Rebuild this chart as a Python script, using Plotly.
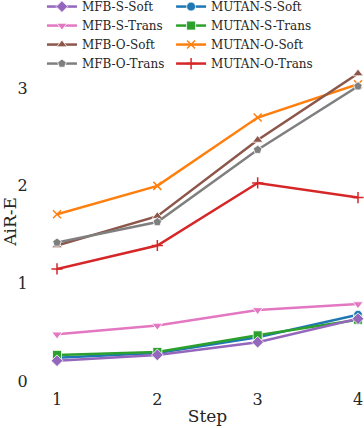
import plotly.graph_objects as go

steps = [1, 2, 3, 4]

mfb_s_soft = [0.21, 0.27, 0.40, 0.64]
mfb_s_trans = [0.48, 0.57, 0.73, 0.79]
mfb_o_soft = [1.39, 1.69, 2.47, 3.15]
mfb_o_trans = [1.42, 1.63, 2.37, 3.02]
mutan_s_soft = [0.24, 0.29, 0.45, 0.68]
mutan_s_trans = [0.27, 0.30, 0.47, 0.63]
mutan_o_soft = [1.71, 2.00, 2.70, 3.04]
mutan_o_trans = [1.15, 1.39, 2.03, 1.88]

y_ticks = [0, 1, 2, 3]

series = [
    # name, values, color, symbol, legend
    ("MUTAN-S-Soft", mutan_s_soft, "#1f77b4", "circle", "legend2"),
    ("MUTAN-S-Trans", mutan_s_trans, "#2ca02c", "square", "legend2"),
    ("MUTAN-O-Soft", mutan_o_soft, "#ff7f0e", "x-thin", "legend2"),
    ("MUTAN-O-Trans", mutan_o_trans, "#d62728", "cross-thin", "legend2"),
    ("MFB-S-Soft", mfb_s_soft, "#9467bd", "diamond", "legend"),
    ("MFB-S-Trans", mfb_s_trans, "#e377c2", "triangle-down", "legend"),
    ("MFB-O-Soft", mfb_o_soft, "#8c564b", "triangle-up", "legend"),
    ("MFB-O-Trans", mfb_o_trans, "#7f7f7f", "pentagon", "legend"),
]

fig = go.Figure()
for name, vals, color, sym, lg in series:
    thin = sym.endswith("-thin")
    fig.add_trace(go.Scatter(
        x=steps, y=vals, name=name, mode="lines+markers",
        line=dict(color=color, width=2.5),
        marker=dict(symbol=sym, size=9 if not thin else 8, color=color,
                    line=dict(color=color if thin else "white", width=1.5 if thin else 0.8)),
        cliponaxis=False,
        legend=lg,
    ))

text_color = "#262626"
font_family = "DejaVu Serif"

legend_common = dict(
    orientation="v", bgcolor="rgba(0,0,0,0)", borderwidth=0,
    font=dict(family=font_family, size=12, color=text_color),
    xanchor="left", yanchor="top", tracegroupgap=0, itemwidth=30,
    traceorder="normal",
)

fig.update_layout(
    width=364, height=428,
    margin=dict(l=57, r=6, t=55, b=40, autoexpand=False),
    paper_bgcolor="white", plot_bgcolor="white",
    font=dict(family=font_family, color=text_color),
    showlegend=True,
    legend=dict(x=-0.05, y=1.189, **legend_common),
    legend2=dict(x=0.379, y=1.189, **legend_common),
    xaxis=dict(
        range=[1, 4], tickvals=steps, showgrid=False, zeroline=False, showline=False,
        ticks="", tickfont=dict(size=16, family=font_family, color=text_color),
        title=dict(text="Step", font=dict(size=17, family=font_family, color=text_color), standoff=2),
        automargin=True,
    ),
    yaxis=dict(
        range=[-0.069, 3.34], tickvals=y_ticks, showgrid=False, zeroline=False, showline=False,
        ticks="outside", ticklen=25, tickcolor="rgba(0,0,0,0)",
        tickfont=dict(size=16, family=font_family, color=text_color),
        title=dict(text="AiR-E", font=dict(size=17, family=font_family, color=text_color), standoff=4),
        automargin=True,
    ),
)

fig.write_html("out.html", config={"displayModeBar": False},
               post_script="document.body.style.margin='0';")
